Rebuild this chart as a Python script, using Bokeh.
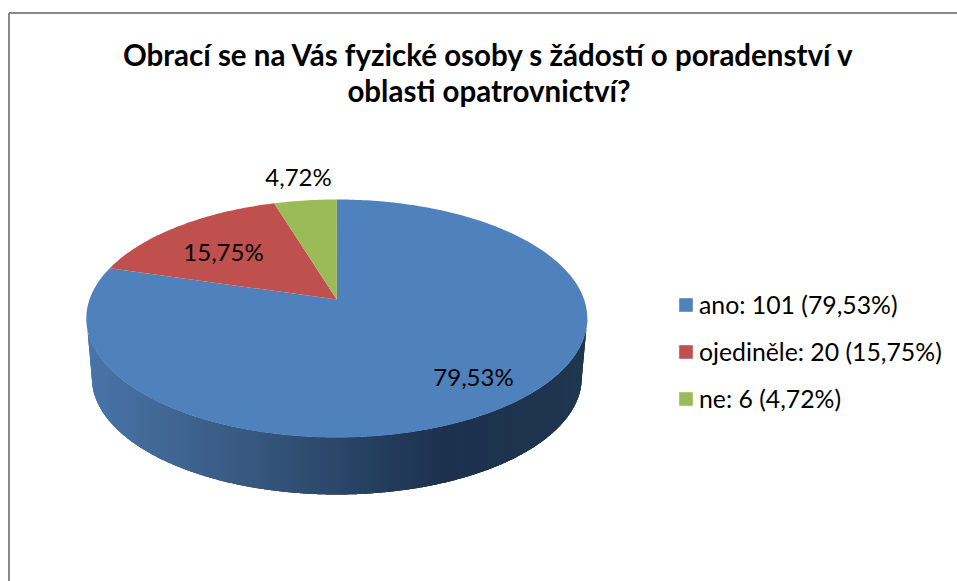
import math
from bokeh.plotting import figure
from bokeh.embed import file_html
from bokeh.resources import INLINE
from bokeh.core.properties import value
from bokeh.models import Range1d, Legend, LegendItem

title_lines = ["Obrací se na Vás fyzické osoby s žádostí o poradenství v", "oblasti opatrovnictví?"]
categories = ["ano", "ojediněle", "ne"]
counts = [101, 20, 6]
percent_labels = ["79,53%", "15,75%", "4,72%"]
colors = ["#4F81BD", "#C0504D", "#9BBB59"]
wall_stops = [(86, "#4A75A9"), (250, "#37587F"), (445, "#1C314D"), (587, "#203650")]

FONT = "Lato"
W, H = 957, 581
CX, CY, A, B = 336.3, 318.0, 250.5, 119.0
TILT = 0.16
BCY, BA, BB = 377.0, 245.0, 117.0

p = figure(width=W, height=H, output_backend="svg", toolbar_location=None,
           x_range=Range1d(0, W), y_range=Range1d(H, 0),
           min_border=0, outline_line_color=None)
p.xaxis.visible = False
p.yaxis.visible = False
p.grid.visible = False

def project(theta):
    # clockwise from top; disc automorphism moves the pie's apex off the ellipse centre
    u, v = math.sin(theta), math.cos(theta)
    w = 1 + TILT * v
    return CX + A * u * math.sqrt(1 - TILT ** 2) / w, CY - B * (v + TILT) / w

def hex_mix(t, c0, c1):
    a = [int(c0[i:i + 2], 16) for i in (1, 3, 5)]
    b = [int(c1[i:i + 2], 16) for i in (1, 3, 5)]
    return "#%02x%02x%02x" % tuple(round(x + (y - x) * t) for x, y in zip(a, b))

def wall_color(x):
    for (x0, c0), (x1, c1) in zip(wall_stops, wall_stops[1:]):
        if x <= x1:
            return hex_mix((x - x0) / (x1 - x0), c0, c1)
    return wall_stops[-1][1]

def wall_top(x):
    return CY + B * math.sqrt(max(0.0, 1 - ((x - CX) / A) ** 2))

def wall_bottom(x):
    d = abs(x - CX)
    if d >= BA:
        return CY + (A - d) * (BCY - CY) / (A - BA)
    return BCY + BB * math.sqrt(1 - (d / BA) ** 2)

# wall: vertical strips painted left to right, each overlapping the next to hide seams
xs_all, ys_all, cols = [], [], []
x0 = CX - A
right = CX + A
while x0 < right:
    x1 = min(x0 + 6, right)
    grid = [x0 + (x1 - x0) * k / 6 for k in range(7)]
    xs_all.append(grid + grid[::-1])
    ys_all.append([wall_top(x) for x in grid] + [wall_bottom(x) for x in grid[::-1]])
    cols.append(wall_color(x0 + 1))
    x0 += 2
p.patches(xs_all, ys_all, fill_color=cols, line_color=None)

# slices
total = sum(counts)
apex = (CX, CY - B * TILT)
renderers = []
start = 0.0
for c, col in zip(counts, colors):
    end = start + 2 * math.pi * c / total
    n = max(8, int(400 * c / total))
    pts = [project(start + (end - start) * k / n) for k in range(n + 1)]
    xs = [apex[0]] + [q[0] for q in pts]
    ys = [apex[1]] + [q[1] for q in pts]
    renderers.append(p.patch(xs, ys, fill_color=col, line_color=None))
    start = end

# frame (left and top edges are the visible ones)
p.line([8.5, 8.5], [H, 12.5], line_color="#888888", line_width=2)
p.line([8.5, W], [12.5, 12.5], line_color="#888888", line_width=2)

# title
p.text([488.5, 488.5], [54, 90], text=title_lines, text_font=value(FONT), text_font_style="bold",
       text_font_size="29.5px", text_align="center", text_baseline="middle", text_color="#000000")

# data labels
p.text([473, 223, 298], [376, 251, 176], text=percent_labels, text_font=value(FONT),
       text_font_size="24px", text_align="center", text_baseline="middle", text_color="#000000")

# legend
items = [LegendItem(label=f"{n}: {c} ({l})", renderers=[r])
         for n, c, l, r in zip(categories, counts, percent_labels, renderers)]
legend = Legend(items=items, location=(677, 168), orientation="vertical",
                background_fill_alpha=0, border_line_color=None,
                glyph_width=17, glyph_height=17, spacing=18, margin=0, padding=0,
                label_standoff=5, label_text_font=FONT, label_text_font_size="24.8px",
                label_text_color="#000000")
p.add_layout(legend, "center")

open("out.html", "w").write(file_html(p, INLINE))
